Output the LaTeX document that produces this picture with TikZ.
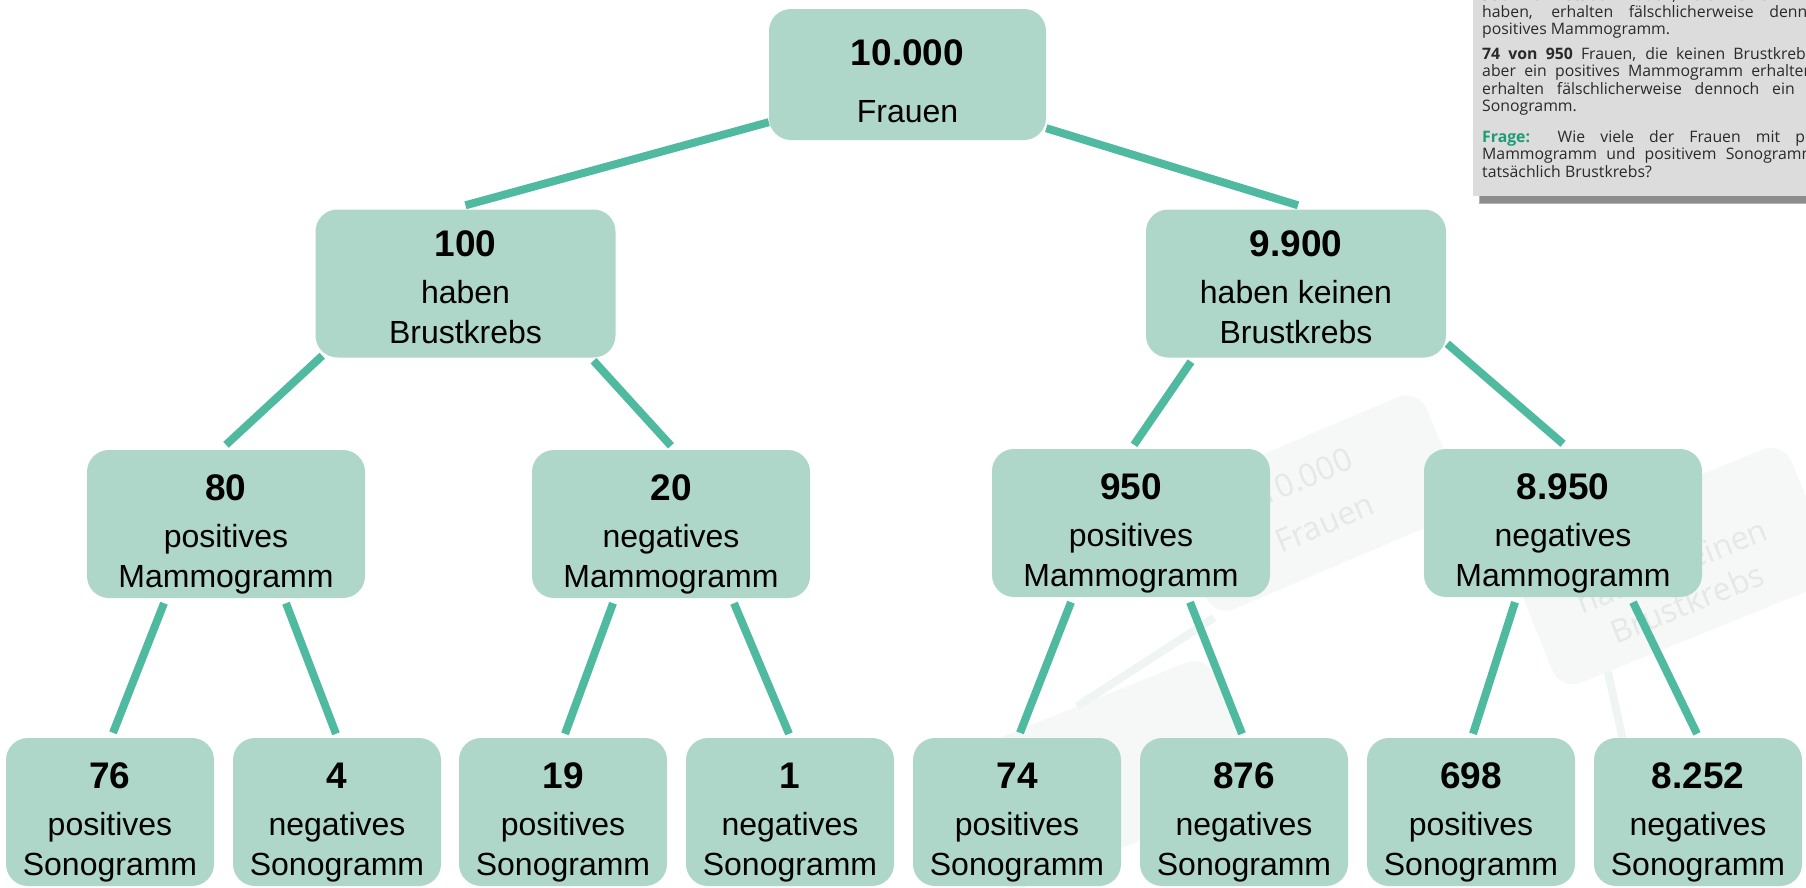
\documentclass[tikz,border=0pt]{standalone}
\usepackage{fontspec}
\setmainfont{Liberation Sans}
\newfontfamily\infofont{Open Sans}
\usetikzlibrary{calc}
\definecolor{boxfill}{HTML}{AED7C9}
\definecolor{connc}{HTML}{4FBAA0}
\definecolor{infobg}{HTML}{DCDCDC}
\definecolor{infotxt}{HTML}{2A2A2A}
\definecolor{frage}{HTML}{1E9C78}
\definecolor{wmfill}{HTML}{F5F8F7}
\definecolor{wmtxt}{HTML}{E4E8E7}
\definecolor{wmline}{HTML}{EFF5F2}
\pgfdeclarelayer{wm}
\pgfdeclarelayer{lines}
\pgfsetlayers{wm,lines,main}
\newcommand\tthree[3]{\fontsize{32}{40}\selectfont\begin{tabular}[t]{@{}c@{}}{\fontsize{37}{40}\selectfont\bfseries #1}\\[7pt]#2\\#3\end{tabular}}
\newcommand\ttwo[2]{\fontsize{32}{40}\selectfont\begin{tabular}[t]{@{}c@{}}{\fontsize{37}{40}\selectfont\bfseries #1}\\[17pt]#2\end{tabular}}
\newcommand\wmtwo[2]{\infofont\fontsize{32}{40}\selectfont\begin{tabular}{@{}c@{}}#1\\[10pt]#2\end{tabular}}
\newcommand\wmthree[3]{\infofont\fontsize{32}{40}\selectfont\begin{tabular}{@{}c@{}}#1\\[7pt]#2\\#3\end{tabular}}
\begin{document}
\begin{tikzpicture}[x=1pt,y=-1pt,
  tbox/.style={rectangle, rounded corners=22pt, fill=boxfill, inner sep=0pt},
  lbl/.style={anchor=base, inner sep=0pt},
  conn/.style={draw=connc, line width=8pt},
  wmbox/.style={rectangle, rounded corners=22pt, fill=wmfill, inner sep=0pt, text=wmtxt},
  wmconn/.style={draw=wmline, line width=8pt},
  info/.style={anchor=base west, inner sep=0pt, text=infotxt, font=\infofont\fontsize{15.8}{17.5}\selectfont}
]
\useasboundingbox (0,0) rectangle (1806,887);

% ---------- boxes ----------
\node[tbox, minimum width=277, minimum height=131] (top) at (907.5,74.5) {};
\node[tbox, minimum width=300, minimum height=148] (n100) at (465.5,283.5) {};
\node[tbox, minimum width=300, minimum height=148] (n9900) at (1296,283.5) {};
\node[tbox, minimum width=278, minimum height=148] (n80) at (226,524) {};
\node[tbox, minimum width=278, minimum height=148] (n20) at (671,524) {};
\node[tbox, minimum width=278, minimum height=148] (n950) at (1131,523) {};
\node[tbox, minimum width=278, minimum height=148] (n8950) at (1563,523) {};
\node[tbox, minimum width=208, minimum height=148] (n76) at (110,812) {};
\node[tbox, minimum width=208, minimum height=148] (n4) at (337,812) {};
\node[tbox, minimum width=208, minimum height=148] (n19) at (563,812) {};
\node[tbox, minimum width=208, minimum height=148] (n1) at (790,812) {};
\node[tbox, minimum width=208, minimum height=148] (n74) at (1017,812) {};
\node[tbox, minimum width=208, minimum height=148] (n876) at (1244,812) {};
\node[tbox, minimum width=208, minimum height=148] (n698) at (1471,812) {};
\node[tbox, minimum width=208, minimum height=148] (n8252) at (1698,812) {};

% ---------- texts ----------
\node[lbl] (ttop) at ($(top.north)+(0,57)$) {\ttwo{10.000}{Frauen}};
\node[lbl] (t100) at ($(n100.north)+(0,47)$) {\tthree{100}{haben}{Brustkrebs}};
\node[lbl] (t9900) at ($(n9900.north)+(0,47)$) {\tthree{9.900}{haben keinen}{Brustkrebs}};
\node[lbl] (t80) at ($(n80.north)+(0,51)$) {\tthree{80}{positives}{Mammogramm}};
\node[lbl] (t20) at ($(n20.north)+(0,51)$) {\tthree{20}{negatives}{Mammogramm}};
\node[lbl] (t950) at ($(n950.north)+(0,51)$) {\tthree{950}{positives}{Mammogramm}};
\node[lbl] (t8950) at ($(n8950.north)+(0,51)$) {\tthree{8.950}{negatives}{Mammogramm}};
\node[lbl] (t76) at ($(n76.north)+(0,51)$) {\tthree{76}{positives}{Sonogramm}};
\node[lbl] (t4) at ($(n4.north)+(0,51)$) {\tthree{4}{negatives}{Sonogramm}};
\node[lbl] (t19) at ($(n19.north)+(0,51)$) {\tthree{19}{positives}{Sonogramm}};
\node[lbl] (t1) at ($(n1.north)+(0,51)$) {\tthree{1}{negatives}{Sonogramm}};
\node[lbl] (t74) at ($(n74.north)+(0,51)$) {\tthree{74}{positives}{Sonogramm}};
\node[lbl] (t876) at ($(n876.north)+(0,51)$) {\tthree{876}{negatives}{Sonogramm}};
\node[lbl] (t698) at ($(n698.north)+(0,51)$) {\tthree{698}{positives}{Sonogramm}};
\node[lbl] (t8252) at ($(n8252.north)+(0,51)$) {\tthree{8.252}{negatives}{Sonogramm}};

% ---------- connectors ----------
\begin{pgfonlayer}{lines}
\draw[conn] ($(top.south west)+(0,-18)$) -- ($(n100.north)+(0,-4)$);
\draw[conn] ($(top.south east)+(0,-12)$) -- ($(n9900.north)+(2,-4)$);
\draw[conn] ($(n100.south west)+(7,-2)$) -- ($(n80.north)+(0,-5)$);
\draw[conn] ($(n100.south)+(128,3)$) -- ($(n20.north)+(0,-4)$);
\draw[conn] ($(n9900.south)+(-105,4)$) -- ($(n950.north)+(3,-4)$);
\draw[conn] ($(n9900.south east)+(1,-14)$) -- ($(n8950.north)+(0,-5)$);
\draw[conn] ($(n80.south)+(-62,5)$) -- ($(n76.north)+(3,-5)$);
\draw[conn] ($(n80.south)+(60,5)$) -- ($(n4.north)+(-1,-4)$);
\draw[conn] ($(n20.south)+(-58,5)$) -- ($(n19.north)+(2,-4)$);
\draw[conn] ($(n20.south)+(63,5)$) -- ($(n1.north)+(-1,-4)$);
\draw[conn] ($(n950.south)+(-60,5)$) -- ($(n74.north)+(3,-5)$);
\draw[conn] ($(n950.south)+(59,5)$) -- ($(n876.north)+(-2,-4)$);
\draw[conn] ($(n8950.south)+(-48,5)$) -- ($(n698.north)+(2,-4)$);
\draw[conn] ($(n8950.south)+(70,5)$) -- ($(n8252.north)+(-1,-4)$);
\end{pgfonlayer}

% ---------- faint watermark ----------
\begin{pgfonlayer}{wm}
\begin{scope}
\clip (0,0) rectangle (1806,887);
\node[wmbox, minimum width=277, minimum height=131, rotate=23] (wA) at (1316,503) {\wmtwo{10.000}{Frauen}};
\node[wmbox, minimum width=300, minimum height=148, rotate=22] (wB) at (1672,566) {\wmthree{\phantom{9.900}}{haben keinen}{Brustkrebs}};
\node[wmbox, minimum width=278, minimum height=148, rotate=22] (wC) at (1105,775) {};
\draw[wmconn] (wA.south west) -- (wC.north);
\coordinate (wD) at (1624,745);
\draw[wmconn] ($(wB.south west)!0.17!(wB.south east)$) -- (wD);
\end{scope}
\end{pgfonlayer}

% ---------- info box ----------
\begin{scope}
\clip (0,0) rectangle (1806,887);
\fill[black!30] (1479,195) rectangle (1820,204);
\fill[black!45] (1480,196) rectangle (1820,202.5);
\fill[infobg] (1473,-10) rectangle (1820,196);
\node[info] (i1) at (1482,0) {\makebox[390pt][s]{\textbf{950 von 9.900} Frauen, die keinen Brustkrebs}};
\node[info] (i2) at (1482,17.4) {\makebox[390pt][s]{haben, erhalten fälschlicherweise dennoch ein}};
\node[info] (i3) at (1482,34.9) {positives Mammogramm.};
\node[info] (i4) at (1482,59.3) {\makebox[390pt][s]{\textbf{74 von 950} Frauen, die keinen Brustkrebs haben,}};
\node[info] (i5) at (1482,76.7) {\makebox[390pt][s]{aber ein positives Mammogramm erhalten haben,}};
\node[info] (i6) at (1482,94.2) {\makebox[390pt][s]{erhalten fälschlicherweise dennoch ein positives}};
\node[info] (i7) at (1482,111.6) {Sonogramm.};
\node[info] (i8) at (1482,142.3) {\makebox[385pt][s]{\textcolor{frage}{\textbf{Frage:}} Wie viele der Frauen mit positivem}};
\node[info] (i9) at (1482,159.8) {\makebox[390pt][s]{Mammogramm und positivem Sonogramm haben}};
\node[info] (i10) at (1482,177.2) {tatsächlich Brustkrebs?};
\end{scope}
\end{tikzpicture}
\end{document}
